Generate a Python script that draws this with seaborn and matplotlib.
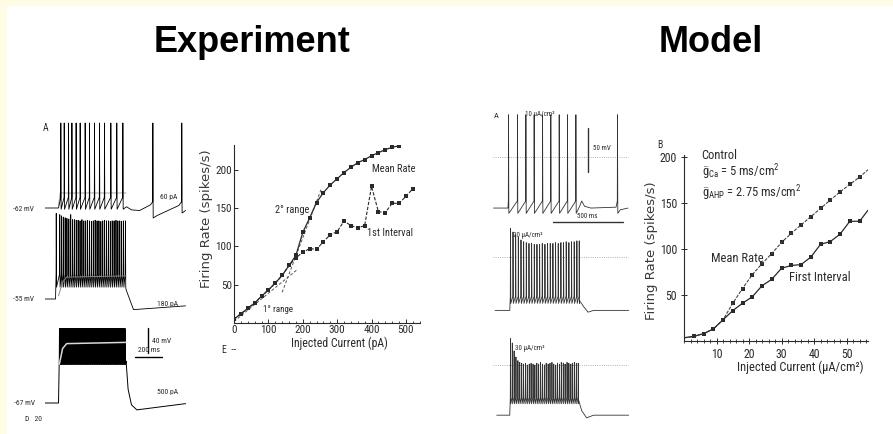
import numpy as np
import pandas as pd
import matplotlib
matplotlib.use("Agg")
import matplotlib.pyplot as plt
import seaborn as sns
from matplotlib import font_manager
from matplotlib.patches import Rectangle
from matplotlib.ticker import MultipleLocator, FixedLocator

# ---------------------------------------------------------------- data
# Experiment: F-I curves (pA -> spikes/s)
exp_mean_current = [0, 20, 40, 60, 80, 100, 120, 140, 160, 180, 200, 220, 240,
                    260, 280, 300, 320, 340, 360, 380, 400, 420, 440, 460, 480]
exp_mean_rate = [5, 12, 19, 26, 35, 43, 52, 62, 75, 88, 118, 137, 157,
                 170, 180, 188, 196, 203, 209, 213, 218, 222, 226, 229, 231]
exp_first_current = [0, 20, 40, 60, 80, 100, 120, 140, 160, 180, 200, 220, 240, 260,
                     280, 300, 320, 340, 360, 380, 400, 420, 440, 460, 480, 500, 520]
exp_first_rate = [5, 12, 19, 26, 35, 43, 52, 62, 75, 85, 92, 97, 96, 106,
                  115, 119, 133, 127, 124, 127, 178, 145, 144, 156, 156, 165, 175]
exp_fit1_current = [0, 185]
exp_fit1_rate = [2, 70]
exp_fit2_current = [140, 255]
exp_fit2_rate = [40, 176]
exp_xticks = [0, 100, 200, 300, 400, 500]
exp_yticks = [50, 100, 150, 200]

# Model: F-I curves (uA/cm2 -> spikes/s)
mod_current = [0, 3, 6, 9, 12, 15, 18, 21, 24, 27, 30, 33, 36, 39, 42, 45, 48, 51, 54, 56.6]
mod_mean_rate = [3.5, 5, 8, 13, 23, 41, 57, 72, 84, 95, 107, 117, 126, 135, 144, 153, 162, 170, 178, 186]
mod_first_rate = [3.5, 5, 8, 13, 23, 33, 41, 48, 60, 67, 79, 82, 83, 91, 105, 108, 116, 130, 130, 142]
mod_xticks = [10, 20, 30, 40, 50]
mod_yticks = [50, 100, 150, 200]

# Experiment voltage traces (ms, mV)
e1_sub_t = [0, 100, 104, 603, 640, 700, 780, 830, 990, 1040]
e1_sub_v = [-62, -62, -58, -60, -65, -66, -57, -74, -58, -66]
e1_spk_t = [116, 141, 173, 198, 229, 259, 296, 328, 365, 402, 439, 486, 530, 575, 797, 1011]
e1_spk_peak = 74
e1_spk_thr = [-45, -45, -45, -45, -45, -45, -45, -45, -45, -45, -45, -45, -45, -45, -52, -52]
e1_spk_trough = [-64, -64, -64, -64, -64, -64, -64, -64, -64, -64, -64, -64, -64, -64, -78, -70]
e1_gray_t = [100, 112, 600]
e1_gray_v = [-58, -38, -38]

e2_sub_t = [0, 78, 600, 655, 1040]
e2_sub_v = [-55, -55, -40, -72, -66]
e2_spk_t = [82, 108, 121, 134, 148, 161, 175, 189, 203, 216, 230, 244, 258, 272, 286, 300,
            314, 328, 342, 356, 370, 384, 398, 412, 426, 440, 454, 468, 482, 496, 510, 524,
            538, 552, 566, 580, 594]
e2_spk_peak = [82, 80, 78, 76, 75, 74, 73, 80, 72, 72, 71, 71, 70, 72, 70, 70, 71, 70, 69,
               70, 71, 70, 70, 69, 70, 71, 70, 70, 69, 70, 70, 71, 70, 70, 69, 70, 70]
e2_spk_thr = -15
e2_spk_trough = -36
e2_gray_t = [100, 130, 160, 600]
e2_gray_v = [-50, -28, -20, -18]

e3_sub_t = [0, 100, 600, 615, 640, 680, 1040]
e3_sub_v = [-67, -67, 0, -45, -70, -78, -68]
e3_spk_t = [106, 112, 118, 124, 131, 137, 143, 150, 156, 163, 169, 176, 182, 189, 195, 202,
            208, 215, 221, 228, 234, 241, 247, 254, 260, 267, 273, 280, 286, 293, 299, 306,
            312, 319, 325, 332, 338, 345, 351, 358, 364, 371, 377, 384, 390, 397, 403, 410,
            416, 423, 429, 436, 442, 449, 455, 462, 468, 475, 481, 488, 494, 501, 507, 514,
            520, 527, 533, 540, 546, 553, 559, 566, 572, 579, 585, 592]
e3_spk_peak = 52
e3_spk_thr = 8
e3_spk_trough = -5
e3_gray_t = [106, 130, 160, 600]
e3_gray_v = [-5, 20, 28, 30]

exp_bar_t = [666, 866]
exp_bar_t_v = [6.6, 6.6]
exp_bar_v_t = [762, 762]
exp_bar_v = [13, 53]

# Model voltage traces (ms, mV)
m1_sub_t = [25, 128, 640, 655, 675, 720, 900, 930, 985]
m1_sub_v = [-58, -58, -56, -50, -56, -58, -57, -60, -58]
m1_spk_t = [131, 195, 255, 314, 374, 433, 493, 552, 612, 909]
m1_spk_peak = 48
m1_spk_thr = -50
m1_spk_trough = -64

m2_sub_t = [36, 141, 640, 670, 700, 740, 990]
m2_sub_v = [-61, -61, -50, -57, -63, -61, -61]
m2_spk_t = [145, 163, 182, 201, 220, 239, 258, 277, 296, 315, 334, 353, 372, 391, 410, 429,
            448, 467, 486, 505, 524, 543, 562, 581, 600, 619, 636]
m2_spk_peak = [32, 28, 25, 22, 19, 17, 16, 15, 15, 14, 14, 14, 15, 14, 15, 15, 15, 16, 15,
               16, 16, 17, 16, 17, 17, 18, 18]
m2_spk_thr = -45
m2_spk_trough = -53

m3_sub_t = [48, 141, 633, 655, 690, 740, 990]
m3_sub_v = [-57, -57, -40, -52, -60, -57, -57]
m3_spk_t = [145, 158, 171, 184, 198, 211, 225, 238, 252, 265, 279, 292, 306, 319, 333, 346,
            360, 373, 387, 400, 414, 427, 441, 454, 468, 481, 495, 508, 522, 535, 549, 562,
            576, 589, 603, 616, 629]
m3_spk_peak = [30, 25, 16, 9, 5, 3, 2, 1, 2, 0, 1, 2, 1, 0, 2, 1, 3, 1, 0, 2, 1, 2, 3, 1, 0,
               2, 1, 3, 2, 1, 3, 2, 1, 2, 3, 2, 2]
m3_spk_thr = -37
m3_spk_trough = -44

mod_dot_t = [21, 985]
mod_dot_v = [0, 0]
mod_bar_t = [450, 950]
mod_bar_t_v = [-73.8, -73.8]
mod_bar_v_t = [700, 700]
mod_bar_v = [-17, 33]

# ---------------------------------------------------------------- style
sns.set_theme(style="ticks")
plt.rcParams["font.family"] = ["DejaVu Sans"]

names = {f.name: f for f in font_manager.fontManager.ttflist}
NARROW = {"family": "Liberation Sans"}
if "Liberation Sans Narrow" in names:
    NARROW = {"family": "Liberation Sans Narrow"}
elif "Roboto Condensed" in names:
    NARROW = {"family": "Roboto Condensed"}
else:
    for f in font_manager.fontManager.ttflist:
        if f.name == "DejaVu Sans" and "condensed" in str(f.stretch):
            NARROW = {"family": "DejaVu Sans", "stretch": f.stretch}
            break
if NARROW["family"] != "DejaVu Sans":
    plt.rcParams["mathtext.fontset"] = "custom"
    plt.rcParams["mathtext.rm"] = NARROW["family"]
    plt.rcParams["mathtext.it"] = NARROW["family"] + ":italic"
    plt.rcParams["mathtext.bf"] = NARROW["family"] + ":bold"

INK = "#2a2a2a"
W, H = 893, 434
fig = plt.figure(figsize=(W / 100, H / 100), dpi=100, facecolor="#fefce4")
fig.patches.append(Rectangle((7 / W, 0), 1 - 7 / W, 1 - 6 / H, transform=fig.transFigure,
                             facecolor="white", edgecolor="none", zorder=-10))


def px_box(l, t, r, b):
    return [l / W, 1 - b / H, (r - l) / W, (b - t) / H]


def ftext(x, y, s, size, ha="left", va="center", **kw):
    props = dict(NARROW)
    props.update(kw)
    fig.text(x / W, 1 - y / H, s, fontsize=size, ha=ha, va=va, color=INK, **props)


def build_trace(sub_t, sub_v, spk_t, peak, thr, trough):
    n = len(spk_t)
    peak = np.broadcast_to(np.asarray(peak, float), (n,))
    thr = np.broadcast_to(np.asarray(thr, float), (n,))
    trough = np.broadcast_to(np.asarray(trough, float), (n,))
    pts = list(zip(sub_t, sub_v))
    for ts, pk, th, tr in zip(spk_t, peak, thr, trough):
        pts += [(ts, th), (ts + 1.2, pk), (ts + 3.5, tr)]
    pts.sort()
    return pd.DataFrame(pts, columns=["t", "v"])


def trace_ax(l, t, r, b, t0_px, ms_px, vref, vref_px, mv_px):
    ax = fig.add_axes(px_box(l, t, r, b))
    ax.set_xlim((l - t0_px) * ms_px, (r - t0_px) * ms_px)
    ax.set_ylim(vref - (b - vref_px) * mv_px, vref + (vref_px - t) * mv_px)
    ax.axis("off")
    ax.patch.set_alpha(0)
    return ax


def draw_trace(ax, df, color="black", lw=0.6):
    sns.lineplot(data=df, x="t", y="v", ax=ax, color=color, linewidth=lw,
                 estimator=None, sort=False, legend=False)


# ---------------------------------------------------------------- titles
fig.text(252 / W, 1 - 42 / H, "Experiment", fontsize=26, fontweight="bold",
         family="Liberation Sans", ha="center", va="center", color="black")
fig.text(711 / W, 1 - 42 / H, "Model", fontsize=26, fontweight="bold",
         family="Liberation Sans", ha="center", va="center", color="black")

# ---------------------------------------------------------------- experiment traces
E_MS, E_MV = 7.4, 1.6
ax1 = trace_ax(45, 112, 195, 228, 45, E_MS, -62, 208, E_MV)
draw_trace(ax1, pd.DataFrame({"t": e1_gray_t, "v": e1_gray_v}), color="#9a9a9a", lw=0.6)
draw_trace(ax1, build_trace(e1_sub_t, e1_sub_v, e1_spk_t, e1_spk_peak, e1_spk_thr, e1_spk_trough))

ax2 = trace_ax(45, 205, 195, 318, 45, E_MS, -55, 299, E_MV)
draw_trace(ax2, build_trace(e2_sub_t, e2_sub_v, e2_spk_t, e2_spk_peak, e2_spk_thr, e2_spk_trough))
draw_trace(ax2, pd.DataFrame({"t": e2_gray_t, "v": e2_gray_v}), color="#8a8a8a", lw=0.7)

ax3 = trace_ax(45, 318, 195, 420, 45, E_MS, -67, 403, E_MV)
draw_trace(ax3, build_trace(e3_sub_t, e3_sub_v, e3_spk_t, e3_spk_peak, e3_spk_thr, e3_spk_trough),
           lw=0.7)
draw_trace(ax3, pd.DataFrame({"t": e3_gray_t, "v": e3_gray_v}), color="#d8d8d8", lw=1.1)
draw_trace(ax3, pd.DataFrame({"t": exp_bar_t, "v": exp_bar_t_v}), lw=1.0)
draw_trace(ax3, pd.DataFrame({"t": exp_bar_v_t, "v": exp_bar_v}), lw=1.0)

ftext(43, 128, "A", 7)
ftext(34, 209, "-62 mV", 5.5, ha="right")
ftext(160, 197, "60 pA", 5.5)
ftext(34, 299, "-55 mV", 5.5, ha="right")
ftext(157, 304, "180 pA", 5.5)
ftext(35, 403, "-67 mV", 5.5, ha="right")
ftext(157, 392, "500 pA", 5.5)
ftext(152, 341, "40 mV", 5.5)
ftext(138, 350, "200 ms", 5.5)
ftext(25, 419, "D   20", 5.5)
ftext(222, 350, "E  --", 7)

# ---------------------------------------------------------------- experiment F-I
axe = fig.add_axes(px_box(234, 145, 420, 323))
axe.patch.set_alpha(0)
sns.lineplot(x=exp_fit1_current, y=exp_fit1_rate, ax=axe, color="#555555", linewidth=0.7,
             linestyle=(0, (3, 2)))
sns.lineplot(x=exp_fit2_current, y=exp_fit2_rate, ax=axe, color="#555555", linewidth=0.7,
             linestyle=(0, (3, 2)))
sns.lineplot(x=exp_first_current, y=exp_first_rate, ax=axe, color=INK, linewidth=0.8,
             linestyle=(0, (3, 1.5)), marker="s", markersize=2.4, markeredgewidth=0)
sns.lineplot(x=exp_mean_current, y=exp_mean_rate, ax=axe, color=INK, linewidth=0.9,
             marker="s", markersize=2.4, markeredgewidth=0)
axe.set_xlim(0, 541)
axe.set_ylim(0, 232)
sns.despine(ax=axe)
for s in ("left", "bottom"):
    axe.spines[s].set_linewidth(0.8)
    axe.spines[s].set_color(INK)
axe.xaxis.set_major_locator(FixedLocator(exp_xticks))
axe.yaxis.set_major_locator(FixedLocator(exp_yticks))
axe.xaxis.set_minor_locator(MultipleLocator(20))
axe.tick_params(which="major", direction="in", length=3, width=0.7, color=INK, pad=1.5)
axe.tick_params(which="minor", axis="x", direction="in", length=1.8, width=0.6, color=INK)
for lab in axe.get_xticklabels() + axe.get_yticklabels():
    lab.set(fontsize=8, color=INK, **NARROW)
axe.set_xlabel("Injected Current (pA)", fontsize=8.5, color=INK, va="center", **NARROW)
axe.xaxis.set_label_coords(0.565, -0.112)
axe.set_ylabel("Firing Rate (spikes/s)", fontsize=9.5, color="#3a3a3a", va="center",
               ha="center", family="DejaVu Sans")
axe.yaxis.set_label_coords(-0.15, 0.584)
axe.text(465, 201, "Mean Rate", fontsize=7.5, ha="center", va="center", color=INK, **NARROW)
axe.text(453, 117, "1st Interval", fontsize=7.5, ha="center", va="center", color=INK, **NARROW)
axe.text(169, 147, "2° range", fontsize=7.5, ha="center", va="center", color=INK, **NARROW)
axe.text(128, 18, "1° range", fontsize=6.5, ha="center", va="center", color=INK, **NARROW)

# ---------------------------------------------------------------- model traces
M_MS, M_MV = 7.14, 1.136
bm1 = trace_ax(485, 108, 640, 230, 490, M_MS, 0, 157, M_MV)
draw_trace(bm1, pd.DataFrame({"t": mod_dot_t, "v": mod_dot_v}), color="#9a9a9a", lw=0.6)
bm1.lines[-1].set_linestyle(":")
draw_trace(bm1, build_trace(m1_sub_t, m1_sub_v, m1_spk_t, m1_spk_peak, m1_spk_thr, m1_spk_trough),
           color="#333333")
draw_trace(bm1, pd.DataFrame({"t": mod_bar_t, "v": mod_bar_t_v}), color="#333333", lw=1.0)
draw_trace(bm1, pd.DataFrame({"t": mod_bar_v_t, "v": mod_bar_v}), color="#333333", lw=1.0)

bm2 = trace_ax(485, 225, 640, 322, 490, M_MS, 0, 256.7, M_MV)
draw_trace(bm2, pd.DataFrame({"t": mod_dot_t, "v": mod_dot_v}), color="#9a9a9a", lw=0.6)
bm2.lines[-1].set_linestyle(":")
draw_trace(bm2, build_trace(m2_sub_t, m2_sub_v, m2_spk_t, m2_spk_peak, m2_spk_thr, m2_spk_trough),
           color="#333333")

bm3 = trace_ax(485, 330, 640, 428, 490, M_MS, 0, 365, M_MV)
draw_trace(bm3, pd.DataFrame({"t": mod_dot_t, "v": mod_dot_v}), color="#9a9a9a", lw=0.6)
bm3.lines[-1].set_linestyle(":")
draw_trace(bm3, build_trace(m3_sub_t, m3_sub_v, m3_spk_t, m3_spk_peak, m3_spk_thr, m3_spk_trough),
           color="#333333")

ftext(494, 116, "A", 6)
ftext(525, 115, "10 µA/cm²", 5)
ftext(593, 148, "50 mV", 5)
ftext(577, 217, "500 ms", 5)
ftext(513, 235, "20 µA/cm²", 5)
ftext(515, 348, "30 µA/cm²", 5)
ftext(657, 145, "B", 7)

# ---------------------------------------------------------------- model F-I
axm = fig.add_axes(px_box(684, 155, 868, 341))
axm.patch.set_alpha(0)
sns.lineplot(x=mod_current, y=mod_mean_rate, ax=axm, color="#444444", linewidth=0.8,
             linestyle=(0, (3, 1.2)))
sns.lineplot(x=mod_current, y=mod_first_rate, ax=axm, color=INK, linewidth=0.9)
sns.scatterplot(x=mod_current[1:-1], y=mod_mean_rate[1:-1], ax=axm, color=INK, marker="s",
                s=5, linewidth=0)
sns.scatterplot(x=mod_current[1:-1], y=mod_first_rate[1:-1], ax=axm, color=INK, marker="s",
                s=5, linewidth=0)
axm.set_xlim(0, 56.6)
axm.set_ylim(0, 202)
sns.despine(ax=axm)
for s in ("left", "bottom"):
    axm.spines[s].set_linewidth(0.8)
    axm.spines[s].set_color(INK)
axm.xaxis.set_major_locator(FixedLocator(mod_xticks))
axm.yaxis.set_major_locator(FixedLocator(mod_yticks))
axm.xaxis.set_minor_locator(MultipleLocator(2))
axm.tick_params(which="major", direction="inout", length=4, width=0.7, color=INK, pad=3)
axm.tick_params(which="minor", axis="x", direction="inout", length=2.4, width=0.6, color=INK)
for lab in axm.get_xticklabels() + axm.get_yticklabels():
    lab.set(fontsize=8.5, color=INK, **NARROW)
axm.set_xlabel("Injected Current (µA/cm²)", fontsize=9, color=INK, va="center", **NARROW)
axm.xaxis.set_label_coords(0.63, -0.141)
axm.set_ylabel("Firing Rate (spikes/s)", fontsize=9.5, color="#3a3a3a", va="center",
               ha="center", family="DejaVu Sans")
axm.yaxis.set_label_coords(-0.175, 0.488)
axm.text(16.5, 90, "Mean Rate", fontsize=9, ha="center", va="center", color=INK, **NARROW)
axm.text(41.7, 69.5, "First Interval", fontsize=9, ha="center", va="center", color=INK, **NARROW)
axm.text(5.4, 201, "Control", fontsize=9, ha="left", va="center", color=INK, **NARROW)
axm.text(5.4, 183, r"$\bar{\mathrm{g}}_{\mathrm{Ca}}$ = 5 ms/cm$^2$", fontsize=9, ha="left",
         va="center", color=INK, **NARROW)
axm.text(5.4, 161, r"$\bar{\mathrm{g}}_{\mathrm{AHP}}$ = 2.75 ms/cm$^2$", fontsize=9, ha="left",
         va="center", color=INK, **NARROW)

fig.savefig("out.png", dpi=100, facecolor=fig.get_facecolor())
